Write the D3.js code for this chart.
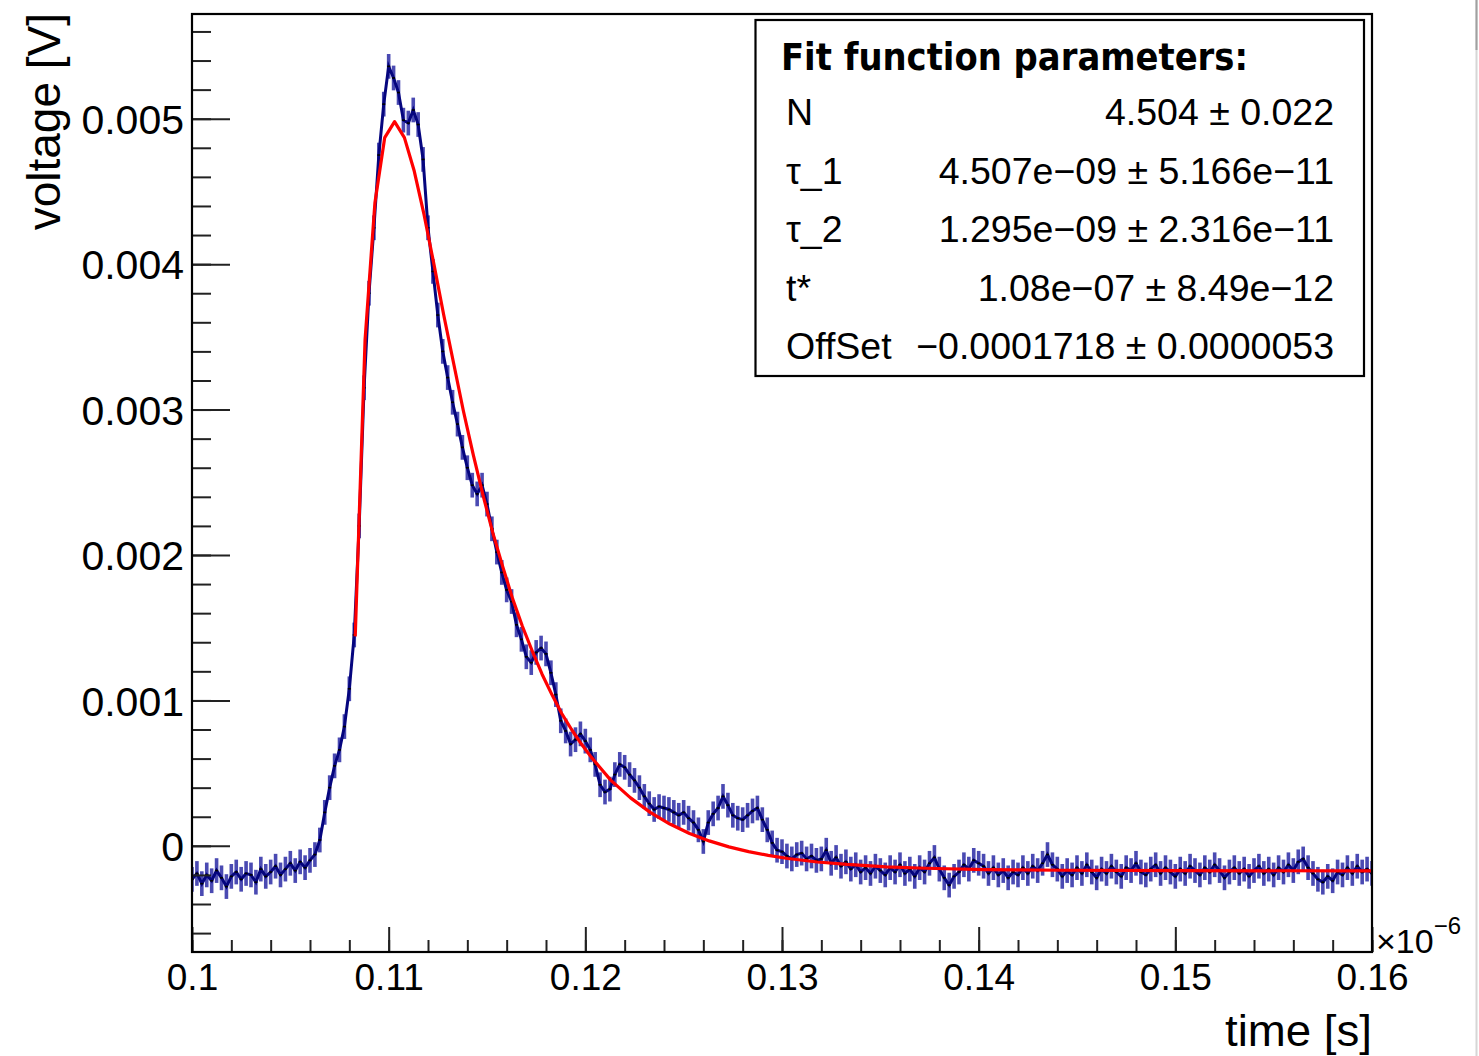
<!DOCTYPE html>
<html>
<head>
<meta charset="utf-8">
<script src="https://cdn.jsdelivr.net/npm/d3@7"></script>
<style>
  body { margin: 0; background: #fff; }
  svg text { font-family: "Liberation Sans", Arial, Helvetica, sans-serif; fill: #000; }
</style>
</head>
<body>
<div id="chart"></div>
<script>
// sample times, in units of 1e-6 s (as on the axis)
var time = [
  0.1,0.10025,0.1005,0.10075,0.101,0.10125,0.1015,0.10175,
  0.102,0.10225,0.1025,0.10275,0.103,0.10325,0.1035,0.10375,
  0.104,0.10425,0.1045,0.10475,0.105,0.10525,0.1055,0.10575,
  0.106,0.10625,0.1065,0.10675,0.107,0.10725,0.1075,0.10775,
  0.108,0.10825,0.1085,0.10875,0.109,0.10925,0.1095,0.10975,
  0.11,0.11025,0.1105,0.11075,0.111,0.11125,0.1115,0.11175,
  0.112,0.11225,0.1125,0.11275,0.113,0.11325,0.1135,0.11375,
  0.114,0.11425,0.1145,0.11475,0.115,0.11525,0.1155,0.11575,
  0.116,0.11625,0.1165,0.11675,0.117,0.11725,0.1175,0.11775,
  0.118,0.11825,0.1185,0.11875,0.119,0.11925,0.1195,0.11975,
  0.12,0.12025,0.1205,0.12075,0.121,0.12125,0.1215,0.12175,
  0.122,0.12225,0.1225,0.12275,0.123,0.12325,0.1235,0.12375,
  0.124,0.12425,0.1245,0.12475,0.125,0.12525,0.1255,0.12575,
  0.126,0.12625,0.1265,0.12675,0.127,0.12725,0.1275,0.12775,
  0.128,0.12825,0.1285,0.12875,0.129,0.12925,0.1295,0.12975,
  0.13,0.13025,0.1305,0.13075,0.131,0.13125,0.1315,0.13175,
  0.132,0.13225,0.1325,0.13275,0.133,0.13325,0.1335,0.13375,
  0.134,0.13425,0.1345,0.13475,0.135,0.13525,0.1355,0.13575,
  0.136,0.13625,0.1365,0.13675,0.137,0.13725,0.1375,0.13775,
  0.138,0.13825,0.1385,0.13875,0.139,0.13925,0.1395,0.13975,
  0.14,0.14025,0.1405,0.14075,0.141,0.14125,0.1415,0.14175,
  0.142,0.14225,0.1425,0.14275,0.143,0.14325,0.1435,0.14375,
  0.144,0.14425,0.1445,0.14475,0.145,0.14525,0.1455,0.14575,
  0.146,0.14625,0.1465,0.14675,0.147,0.14725,0.1475,0.14775,
  0.148,0.14825,0.1485,0.14875,0.149,0.14925,0.1495,0.14975,
  0.15,0.15025,0.1505,0.15075,0.151,0.15125,0.1515,0.15175,
  0.152,0.15225,0.1525,0.15275,0.153,0.15325,0.1535,0.15375,
  0.154,0.15425,0.1545,0.15475,0.155,0.15525,0.1555,0.15575,
  0.156,0.15625,0.1565,0.15675,0.157,0.15725,0.1575,0.15775,
  0.158,0.15825,0.1585,0.15875,0.159,0.15925,0.1595,0.15975,
  0.16
];

// measured voltage [V]
var voltage = [
  -2.3e-4,-1.9e-4,-2.6e-4,-2.0e-4,-2.4e-4,-1.7e-4,-2.2e-4,-2.8e-4,
  -2.1e-4,-1.8e-4,-2.3e-4,-1.9e-4,-2.0e-4,-2.5e-4,-1.6e-4,-2.1e-4,
  -1.8e-4,-1.4e-4,-2.0e-4,-1.6e-4,-1.2e-4,-1.7e-4,-1.1e-4,-1.5e-4,
  -1.0e-4,-0.6e-4,0.4e-4,2.3e-4,4.0e-4,5.5e-4,6.6e-4,8.2e-4,
  10.8e-4,14.5e-4,22.0e-4,31.5e-4,38.0e-4,42.5e-4,47.5e-4,51.0e-4,
  53.6e-4,52.8e-4,51.8e-4,49.9e-4,49.7e-4,50.6e-4,49.6e-4,47.2e-4,
  42.5e-4,39.5e-4,36.5e-4,34.0e-4,32.2e-4,30.5e-4,29.0e-4,27.4e-4,
  26.0e-4,24.8e-4,24.2e-4,24.8e-4,23.5e-4,21.8e-4,20.2e-4,18.8e-4,
  17.6e-4,16.8e-4,15.2e-4,14.2e-4,13.0e-4,12.6e-4,13.3e-4,13.6e-4,
  13.2e-4,11.9e-4,10.4e-4,8.6e-4,7.9e-4,7.0e-4,7.3e-4,7.7e-4,
  7.2e-4,6.6e-4,5.6e-4,4.2e-4,3.7e-4,3.9e-4,4.9e-4,5.6e-4,
  5.4e-4,4.9e-4,4.5e-4,4.0e-4,3.4e-4,2.9e-4,2.5e-4,2.7e-4,
  2.6e-4,2.5e-4,2.3e-4,2.1e-4,2.3e-4,1.9e-4,1.6e-4,1.1e-4,
  0.3e-4,1.6e-4,2.2e-4,2.6e-4,3.4e-4,2.8e-4,2.1e-4,1.9e-4,
  1.8e-4,2.1e-4,2.4e-4,2.6e-4,1.8e-4,1.1e-4,0.2e-4,-0.3e-4,
  -0.4e-4,-0.7e-4,-0.9e-4,-0.6e-4,-0.5e-4,-0.9e-4,-0.7e-4,-1.0e-4,
  -0.9e-4,-0.3e-4,-1.2e-4,-0.8e-4,-1.4e-4,-1.1e-4,-1.6e-4,-1.3e-4,
  -1.8e-4,-1.5e-4,-1.9e-4,-1.4e-4,-1.7e-4,-2.0e-4,-1.5e-4,-1.8e-4,
  -1.3e-4,-1.9e-4,-1.6e-4,-2.1e-4,-1.5e-4,-1.8e-4,-1.2e-4,-0.8e-4,
  -1.6e-4,-2.2e-4,-2.7e-4,-2.1e-4,-1.8e-4,-1.3e-4,-1.6e-4,-1.0e-4,
  -1.2e-4,-1.4e-4,-1.9e-4,-1.5e-4,-2.0e-4,-1.7e-4,-2.2e-4,-1.8e-4,
  -2.0e-4,-1.5e-4,-1.9e-4,-1.4e-4,-1.7e-4,-1.2e-4,-0.6e-4,-1.3e-4,
  -1.6e-4,-2.1e-4,-1.7e-4,-2.0e-4,-1.5e-4,-1.9e-4,-1.3e-4,-1.8e-4,
  -2.2e-4,-1.6e-4,-1.9e-4,-1.4e-4,-1.8e-4,-2.1e-4,-1.5e-4,-1.7e-4,
  -1.2e-4,-1.8e-4,-2.0e-4,-1.6e-4,-1.3e-4,-1.9e-4,-1.5e-4,-1.8e-4,
  -2.1e-4,-1.6e-4,-1.9e-4,-1.4e-4,-1.7e-4,-2.0e-4,-1.5e-4,-1.8e-4,
  -1.3e-4,-1.7e-4,-2.2e-4,-1.8e-4,-1.5e-4,-1.9e-4,-1.6e-4,-2.1e-4,
  -1.7e-4,-1.4e-4,-1.9e-4,-1.6e-4,-2.0e-4,-1.5e-4,-1.8e-4,-1.3e-4,
  -1.7e-4,-1.1e-4,-0.9e-4,-1.5e-4,-1.9e-4,-2.3e-4,-2.5e-4,-2.1e-4,
  -2.4e-4,-1.8e-4,-2.0e-4,-1.5e-4,-1.9e-4,-1.4e-4,-1.8e-4,-1.6e-4,
  -1.9e-4
];
var voltageErr = 0.85e-4;

// fitted curve
var fitTime = [
  0.1083,0.1088,0.1093,0.1098,0.1103,0.1108,0.1113,0.1118,0.1123,0.1128,
  0.1133,0.1138,0.1143,0.1148,0.1153,0.1158,0.1163,0.1168,0.1173,0.1178,
  0.1183,0.1188,0.1193,0.1198,0.1203,0.1208,0.1213,0.1223,0.1233,0.1243,
  0.1253,0.1263,0.1273,0.1283,0.1293,0.1303,0.1318,0.1333,0.1353,0.1373,
  0.1403,0.1443,0.1503,0.16
];
var fitVoltage = [
  14.4e-4,34.8e-4,44.2e-4,48.7e-4,49.8e-4,48.7e-4,46.4e-4,43.4e-4,40.0e-4,36.5e-4,
  33.2e-4,29.9e-4,26.9e-4,24.1e-4,21.5e-4,19.2e-4,17.0e-4,15.1e-4,13.4e-4,11.8e-4,
  10.4e-4,9.1e-4,8.0e-4,7.0e-4,6.1e-4,5.3e-4,4.5e-4,3.3e-4,2.3e-4,1.5e-4,
  0.85e-4,0.34e-4,-0.07e-4,-0.40e-4,-0.66e-4,-0.87e-4,-1.11e-4,-1.28e-4,-1.44e-4,-1.54e-4,
  -1.63e-4,-1.68e-4,-1.71e-4,-1.72e-4
];

var xTicks = [0.1,0.11,0.12,0.13,0.14,0.15,0.16];
var xTickLabels = ["0.1","0.11","0.12","0.13","0.14","0.15","0.16"];
var yTicks = [0,0.001,0.002,0.003,0.004,0.005];
var yTickLabels = ["0","0.001","0.002","0.003","0.004","0.005"];

var legendTitle = "Fit function parameters:";
var paramNames = ["N","τ_1","τ_2","t*","OffSet"];
var paramValues = [
  "4.504 ± 0.022",
  "4.507e\u221209 ± 5.166e\u221211",
  "1.295e\u221209 ± 2.316e\u221211",
  "1.08e\u221207 ± 8.49e\u221212",
  "\u22120.0001718 ± 0.0000053"
];

var svg = d3.select("#chart").append("svg")
    .attr("width", 1479).attr("height", 1056);

var x = d3.scaleLinear().domain([0.1, 0.16]).range([192, 1372]);
var y = d3.scaleLinear().domain([-0.00073, 0.00572]).range([952, 14]);

// window edge on the right
svg.append("line").attr("x1", 1476.5).attr("x2", 1476.5).attr("y1", 0).attr("y2", 1056)
    .attr("stroke", "#d6d6d6").attr("stroke-width", 2);
svg.append("line").attr("x1", 1476.5).attr("x2", 1476.5).attr("y1", 0).attr("y2", 50)
    .attr("stroke", "#a0a0a0").attr("stroke-width", 2);

svg.append("defs").append("clipPath").attr("id", "frameClip")
  .append("rect").attr("x", 192).attr("y", 14).attr("width", 1180).attr("height", 938);

var points = time.map(function(t, i) { return {t: t, v: voltage[i]}; });
var plot = svg.append("g").attr("clip-path", "url(#frameClip)");

// error bars
plot.append("g").selectAll("line").data(points).enter().append("line")
    .attr("x1", function(d) { return x(d.t); })
    .attr("x2", function(d) { return x(d.t); })
    .attr("y1", function(d) { return y(d.v - voltageErr); })
    .attr("y2", function(d) { return y(d.v + voltageErr); })
    .attr("stroke", "#2a2aa4").attr("stroke-opacity", 0.85).attr("stroke-width", 3.6);

plot.append("path").datum(points)
    .attr("fill", "none").attr("stroke", "#05057e").attr("stroke-width", 3)
    .attr("d", d3.line().x(function(d) { return x(d.t); }).y(function(d) { return y(d.v); }));

// markers
plot.append("g").selectAll("rect").data(points).enter().append("rect")
    .attr("x", function(d) { return x(d.t) - 1.5; })
    .attr("y", function(d) { return y(d.v) - 0.8; })
    .attr("width", 3).attr("height", 1.6).attr("fill", "#000");

// fit
var fitPoints = fitTime.map(function(t, i) { return {t: t, v: fitVoltage[i]}; });
plot.append("path").datum(fitPoints)
    .attr("fill", "none").attr("stroke", "#ff0000").attr("stroke-width", 3.2)
    .attr("stroke-linejoin", "round")
    .attr("d", d3.line().x(function(d) { return x(d.t); }).y(function(d) { return y(d.v); }));

// axes, ticks inside the frame
var yMinor = svg.append("g").attr("transform", "translate(192,0)")
    .call(d3.axisLeft(y).tickValues(y.ticks(32)).tickSize(-19).tickFormat(""));
var yMajor = svg.append("g").attr("transform", "translate(192,0)")
    .call(d3.axisLeft(y).tickValues(yTicks).tickSize(-38).tickPadding(8)
      .tickFormat(function(d, i) { return yTickLabels[i]; }));
var xMinor = svg.append("g").attr("transform", "translate(0,952)")
    .call(d3.axisBottom(x).tickValues(x.ticks(30)).tickSize(-12).tickFormat(""));
var xMajor = svg.append("g").attr("transform", "translate(0,952)")
    .call(d3.axisBottom(x).tickValues(xTicks).tickSize(-25)
      .tickFormat(function(d, i) { return xTickLabels[i]; }));

[yMinor, yMajor, xMinor, xMajor].forEach(function(g) {
  g.select(".domain").remove();
  g.selectAll(".tick line").attr("stroke", "#222").attr("stroke-width", 2);
  g.selectAll("text").attr("font-family", null).attr("fill", "#000");
});
yMajor.selectAll("text").attr("font-size", 41).attr("dy", "0.36em");
xMajor.selectAll("text").attr("font-size", 37).attr("y", 38).attr("dy", null);

// frame
svg.append("rect").attr("x", 192).attr("y", 14).attr("width", 1180).attr("height", 938)
    .attr("fill", "none").attr("stroke", "#000").attr("stroke-width", 2.2);

// exponent and axis titles
var expo = svg.append("text").attr("x", 1376).attr("y", 953).attr("font-size", 34);
expo.append("tspan").text("\u00d710");
expo.append("tspan").attr("font-size", 24).attr("dy", -19).text("\u22126");

svg.append("text").attr("x", 1372).attr("y", 1046).attr("text-anchor", "end")
    .attr("font-size", 44).attr("textLength", 147).attr("lengthAdjust", "spacingAndGlyphs")
    .text("time [s]");
svg.append("text").attr("transform", "translate(60,13) rotate(-90)").attr("text-anchor", "end")
    .attr("font-size", 46).text("voltage [V]");

// fit parameter box
var legend = svg.append("g");
legend.append("rect").attr("x", 755.5).attr("y", 20).attr("width", 608.5).attr("height", 356)
    .attr("fill", "#fff").attr("stroke", "#000").attr("stroke-width", 2.2);
legend.append("text").attr("x", 781).attr("y", 70)
    .style("font-family", "'DejaVu Sans', 'Liberation Sans', sans-serif")
    .attr("font-weight", "bold").attr("font-size", 37)
    .attr("textLength", 467).attr("lengthAdjust", "spacingAndGlyphs")
    .text(legendTitle);
paramNames.forEach(function(name, i) {
  var by = 125 + i * 58.6;
  legend.append("text").attr("x", 786).attr("y", by).attr("font-size", 37.5).text(name);
  legend.append("text").attr("x", 1334).attr("y", by).attr("text-anchor", "end")
      .attr("font-size", 37.5).text(paramValues[i]);
});
</script>
</body>
</html>
